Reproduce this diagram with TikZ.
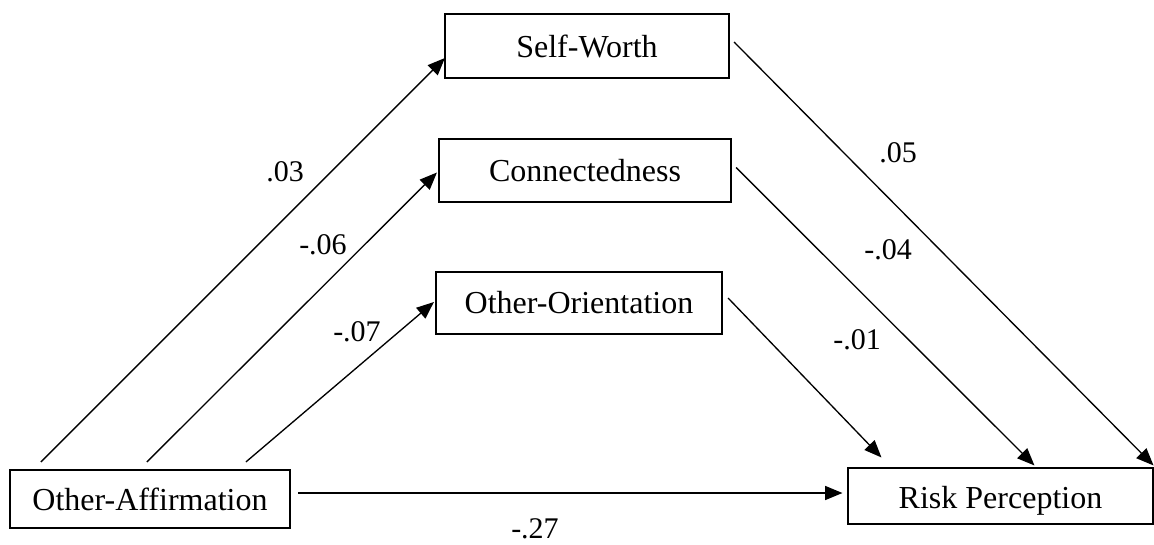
\documentclass[tikz,border=0pt]{standalone}
\usepackage{fontspec}
\setmainfont{Liberation Serif}[Ligatures=NoCommon]
\usetikzlibrary{calc,arrows.meta}
\begin{document}
\begin{tikzpicture}[x=0.75pt,y=-0.75pt,
  var/.style={draw=black,line width=1.6pt,inner sep=0pt,
    font=\fontsize{24}{28}\selectfont},
  outvar/.style={var,line width=0.8pt},
  path/.style={line width=1pt,-{Triangle[length=13pt,width=10.5pt]}},
  coef/.style={inner sep=0pt,font=\fontsize{22.5}{26}\selectfont}]
\useasboundingbox (0,0) rectangle (1154,544);

% variables
\node[var,minimum width=284*0.75pt,minimum height=64*0.75pt] (sw) at (587,46) {Self-Worth};
\node[var,minimum width=292*0.75pt,minimum height=63*0.75pt] (cn) at (585,170.5) {Connectedness};
\node[var,minimum width=286*0.75pt,minimum height=62*0.75pt] (oo) at (579,303) {Other-Orientation};
\node[var,minimum width=280*0.75pt,minimum height=58*0.75pt] (oa) at (150,499) {Other-Affirmation};
\node[outvar,minimum width=305*0.75pt,minimum height=56*0.75pt] (rp) at (1000.5,496) {\smash{\raisebox{-9pt}{Risk Perception}}};

% predictor to mediators
\draw[path] ($(oa.north west)+(32,-7)$) -- ($(sw.west)+(1,12)$);
\draw[path] ($(oa.north west)+(138,-7)$) -- ($(cn.west)+(-1,2)$);
\draw[path] ($(oa.north west)+(237,-7)$) -- ($(oo.west)+(-1,-1)$);

% mediators to outcome
\draw[path] ($(sw.east)+(4,-4)$) -- ($(rp.north east)+(0,-2)$);
\draw[path] ($(cn.east)+(4,-3)$) -- ($(rp.north west)+(187,-2)$);
\draw[path] ($(oo.east)+(5,-5)$) -- ($(rp.north west)+(34,-10)$);

% direct path
\draw[path] ($(oa.east)+(7,-6)$) -- ($(rp.west)+(-5,-3)$);

% coefficients
\node[coef] (c1) at (285,172) {.03};
\node[coef] (c2) at (323,245) {-.06};
\node[coef] (c3) at (357,332) {-.07};
\node[coef] (c4) at (898,153) {.05};
\node[coef] (c5) at (888,250) {-.04};
\node[coef] (c6) at (857,340) {-.01};
\node[coef,anchor=base] (c7) at (535,538) {-.27};
\end{tikzpicture}
\end{document}
